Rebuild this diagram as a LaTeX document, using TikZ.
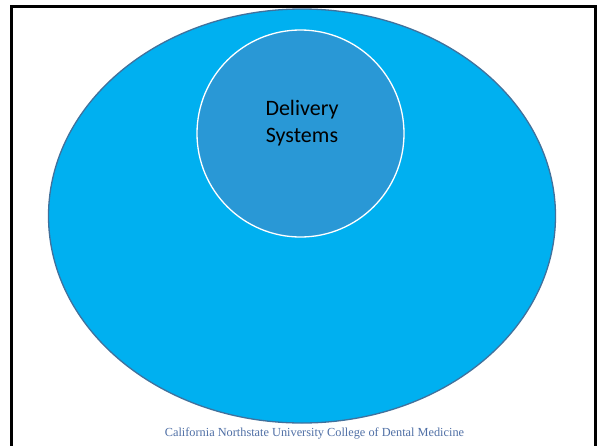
\documentclass[tikz,border=0pt]{standalone}
\usepackage{fontspec}
\setmainfont{Carlito}
\newfontfamily\footfont{Liberation Serif}
\definecolor{outerfill}{HTML}{00B0F0}
\definecolor{outerdraw}{HTML}{41719C}
\definecolor{innerfill}{HTML}{2998D6}
\definecolor{foottext}{HTML}{4F6FA5}
\tikzset{
  outerset/.style={ellipse, draw=outerdraw, fill=outerfill, line width=1.3pt},
  innerset/.style={circle, draw=white, fill=innerfill, line width=1.3pt},
  framebox/.style={draw=black, line width=3pt},
}
\usetikzlibrary{shapes.geometric}
\begin{document}
\begin{tikzpicture}[x=1pt,y=-1pt]
\useasboundingbox (0,0) rectangle (600,445);
\draw[framebox] (11.5,460) -- (11.5,6) -- (595.5,6) -- (595.5,460);
\node[outerset, minimum width=507pt, minimum height=414pt, inner sep=0pt] (outer) at (302,216) {};
\node[innerset, minimum size=207pt, inner sep=0pt] (inner) at (300.5,133.5) {};
\node[align=center, font=\fontsize{22}{27}\selectfont, text=black] (label) at (302,123) {Delivery\\Systems};
\node[font=\footfont\fontsize{12.3}{14}\selectfont, text=foottext] (footer) at (314.5,433) {California Northstate University College of Dental Medicine};
\end{tikzpicture}
\end{document}
